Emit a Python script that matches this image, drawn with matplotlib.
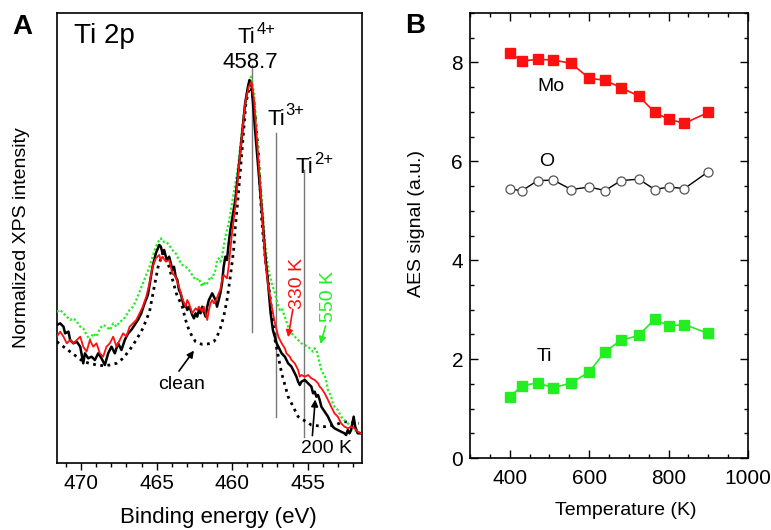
import matplotlib
matplotlib.use("Agg")
import matplotlib.pyplot as plt
from matplotlib.ticker import MultipleLocator

plt.rcParams['font.family'] = ['Liberation Sans', 'DejaVu Sans']

# ---------------- Panel A data (Ti 2p XPS) ----------------
E_200K = [471.61, 471.39, 471.17, 471.06, 470.84, 470.73, 470.51, 470.29, 470.06, 469.86, 469.75, 469.53,
          469.31, 469.09, 468.87, 468.65, 468.43, 468.21, 467.99, 467.77, 467.55, 467.33, 467.11, 466.89,
          466.68, 466.46, 466.24, 466.02, 465.80, 465.58, 465.45, 465.27, 465.05, 464.83, 464.72, 464.61,
          464.50, 464.39, 464.28, 464.17, 464.06, 463.96, 463.85, 463.74, 463.63, 463.52, 463.41, 463.30,
          463.19, 463.08, 462.97, 462.86, 462.75, 462.64, 462.53, 462.42, 462.31, 462.20, 462.09, 461.98,
          461.87, 461.76, 461.65, 461.54, 461.43, 461.32, 461.21, 461.10, 461.00, 460.89, 460.78, 460.67,
          460.56, 460.45, 460.34, 460.23, 460.12, 460.01, 459.90, 459.79, 459.47, 459.14, 458.95, 458.85,
          458.70, 458.48, 458.26, 457.98, 457.80, 457.60, 457.45, 457.30, 457.05, 456.94, 456.72, 456.51,
          456.40, 456.29, 456.07, 455.85, 455.74, 455.63, 455.52, 455.41, 455.19, 454.97, 454.75, 454.64,
          454.53, 454.42, 454.31, 454.20, 454.09, 453.87, 453.65, 453.55, 453.44, 453.33, 453.22, 453.00,
          452.78, 452.56, 452.45, 452.34, 452.23, 452.12, 451.95, 451.85, 451.68, 451.46]
I_200K = [42.5, 43.0, 42.0, 40.0, 40.5, 38.0, 37.0, 37.5, 36.0, 31.0, 34.0, 32.5,
          33.0, 32.0, 34.0, 32.5, 30.5, 34.0, 36.0, 34.0, 37.0, 35.0, 38.0, 40.0,
          41.0, 42.5, 44.0, 46.0, 49.0, 51.5, 55.0, 60.0, 64.0, 66.5, 66.0, 64.0,
          65.0, 63.0, 62.0, 63.0, 61.0, 59.0, 60.0, 57.0, 56.0, 53.0, 52.0, 50.0,
          48.0, 48.5, 47.0, 48.0, 47.0, 45.5, 44.5, 46.0, 45.0, 47.0, 46.0, 48.0,
          46.5, 45.0, 48.0, 50.0, 51.0, 52.0, 51.0, 50.0, 48.0, 50.0, 52.0, 55.0,
          60.0, 63.0, 62.0, 67.0, 71.0, 74.0, 77.0, 80.0, 94.0, 109.0, 114.0, 116.0,
          114.0, 101.0, 89.0, 74.0, 63.0, 54.0, 46.0, 41.0, 37.0, 36.0, 34.0, 33.0,
          32.0, 31.0, 30.0, 28.0, 27.0, 25.5, 24.5, 25.5, 26.0, 25.0, 24.0, 22.0,
          22.5, 21.0, 21.5, 20.0, 18.0, 16.5, 15.0, 14.0, 13.0, 12.0, 11.5, 11.0,
          10.5, 10.0, 9.5, 11.0, 10.0, 11.0, 15.0, 12.0, 10.0, 10.0]

E_330K = [471.61, 471.39, 471.17, 470.95, 470.73, 470.51, 470.29, 470.06, 469.86, 469.64, 469.42, 469.20,
          468.98, 468.76, 468.54, 468.32, 468.10, 467.88, 467.66, 467.44, 467.22, 467.00, 466.79, 466.57,
          466.35, 466.13, 465.91, 465.69, 465.47, 465.27, 465.05, 464.83, 464.72, 464.61, 464.39, 464.17,
          464.06, 463.96, 463.74, 463.52, 463.30, 463.08, 462.97, 462.86, 462.75, 462.64, 462.42, 462.31,
          462.20, 461.98, 461.87, 461.76, 461.65, 461.54, 461.43, 461.32, 461.21, 461.10, 460.89, 460.78,
          460.67, 460.56, 460.45, 460.34, 460.23, 460.12, 460.01, 459.90, 459.79, 459.47, 459.14, 458.90,
          458.72, 458.55, 458.26, 457.93, 457.82, 457.60, 457.38, 457.16, 456.94, 456.72, 456.51, 456.40,
          456.29, 456.18, 456.07, 455.85, 455.63, 455.52, 455.41, 455.19, 454.97, 454.75, 454.53, 454.31,
          454.20, 454.09, 453.87, 453.65, 453.44, 453.22, 453.00, 452.78, 452.56, 452.34, 452.12, 451.90,
          451.68, 451.46]
I_330K = [39.0, 40.5, 39.0, 37.0, 38.0, 37.0, 38.0, 39.0, 36.0, 34.5, 38.0, 36.0,
          37.0, 34.0, 33.0, 36.0, 37.0, 39.0, 36.0, 38.0, 40.0, 39.0, 42.0, 43.0,
          44.0, 46.0, 48.0, 51.0, 55.0, 60.0, 62.5, 63.5, 62.0, 63.0, 61.5, 62.0,
          60.0, 58.0, 57.0, 54.0, 50.5, 48.0, 50.0, 49.0, 47.5, 46.0, 47.5, 47.0,
          48.0, 46.5, 48.0, 46.0, 44.0, 47.0, 49.0, 50.0, 49.0, 49.5, 52.0, 53.0,
          56.0, 57.5, 57.0, 56.5, 60.0, 65.0, 70.0, 74.0, 78.0, 94.0, 109.0, 114.0,
          115.5, 110.0, 92.0, 70.0, 62.0, 54.0, 48.0, 43.0, 39.0, 37.0, 35.5, 34.0,
          33.5, 33.0, 32.0, 31.0, 29.0, 27.0, 27.5, 27.0, 27.5, 26.5, 26.0, 25.0,
          24.0, 23.5, 22.0, 20.0, 18.0, 16.0, 15.0, 13.0, 12.0, 11.5, 12.0, 11.5,
          10.5, 10.0]

E_550K = [471.61, 471.39, 471.17, 470.95, 470.73, 470.51, 470.29, 470.06, 469.86, 469.64, 469.42, 469.20,
          468.98, 468.76, 468.54, 468.32, 468.10, 467.88, 467.66, 467.44, 467.22, 467.00, 466.79, 466.57,
          466.35, 466.13, 465.91, 465.69, 465.47, 465.27, 465.05, 464.83, 464.72, 464.61, 464.39, 464.17,
          463.96, 463.74, 463.52, 463.30, 463.08, 462.86, 462.64, 462.42, 462.20, 462.09, 461.98, 461.87,
          461.76, 461.65, 461.54, 461.43, 461.32, 461.10, 461.00, 460.89, 460.78, 460.67, 460.56, 460.45,
          460.34, 460.23, 460.12, 460.01, 459.60, 459.30, 459.00, 458.75, 458.55, 458.30, 458.00, 457.80,
          457.60, 457.38, 457.16, 457.05, 456.94, 456.83, 456.72, 456.51, 456.29, 456.07, 455.85, 455.63,
          455.41, 455.19, 454.97, 454.75, 454.64, 454.53, 454.42, 454.31, 454.20, 454.09, 453.98, 453.87,
          453.76, 453.65, 453.44, 453.33, 453.22, 453.00, 452.78, 452.56, 452.34, 452.12, 452.01, 451.90,
          451.68, 451.46]
I_550K = [46.5, 47.0, 46.0, 45.0, 44.0, 44.5, 43.5, 42.0, 41.5, 39.5, 38.0, 40.0,
          39.0, 41.5, 42.5, 42.0, 41.0, 43.0, 42.0, 43.5, 44.0, 45.5, 47.0, 48.0,
          50.0, 52.5, 55.0, 57.5, 60.0, 63.0, 66.0, 68.0, 68.5, 67.5, 67.5, 66.5,
          65.0, 64.0, 62.0, 60.5, 60.0, 59.0, 57.5, 56.0, 56.5, 55.0, 54.0, 55.5,
          54.5, 55.0, 56.0, 57.0, 56.5, 59.0, 62.0, 62.5, 61.5, 63.0, 66.0, 69.0,
          71.0, 73.0, 76.0, 79.0, 90.0, 103.0, 113.0, 117.0, 112.0, 96.0, 78.0, 66.0,
          59.0, 55.0, 52.0, 50.0, 48.0, 47.0, 47.5, 45.0, 42.0, 40.0, 39.0, 38.0,
          37.0, 36.5, 36.0, 35.0, 34.5, 35.5, 35.0, 33.0, 31.0, 29.0, 28.0, 27.5,
          25.5, 23.0, 21.0, 19.0, 18.0, 17.0, 15.0, 14.0, 13.0, 12.0, 12.5, 11.0,
          10.5, 10.0]

E_clean = [471.61, 471.17, 470.73, 470.29, 469.86, 469.42, 468.98, 468.54, 468.10, 467.66, 467.22, 466.79,
           466.35, 465.91, 465.47, 465.20, 464.90, 464.60, 464.30, 464.00, 463.70, 463.30, 463.08, 462.86,
           462.64, 462.42, 462.20, 461.98, 461.65, 461.43, 461.21, 461.00, 460.78, 460.56, 460.34, 460.12,
           459.90, 459.79, 459.68, 459.36, 459.09, 458.80, 458.55, 458.26, 458.04, 457.82, 457.49, 457.16,
           456.72, 456.29, 455.63, 454.75, 453.87, 453.22, 452.56, 451.60]
I_clean = [37.5, 36.0, 34.5, 33.0, 31.5, 31.0, 30.5, 30.3, 30.5, 31.0, 32.5, 35.0,
           38.0, 41.5, 46.5, 53.0, 60.0, 64.0, 62.0, 57.0, 52.0, 48.0, 44.0, 41.0,
           39.0, 37.5, 37.0, 36.7, 36.8, 37.0, 37.5, 39.0, 41.5, 45.0, 50.0, 57.0,
           65.0, 72.0, 77.0, 94.0, 109.0, 115.0, 109.0, 94.0, 74.0, 63.0, 51.0, 38.0,
           28.0, 21.0, 15.0, 12.5, 12.0, 12.5, 13.5, 13.0]

# reference lines (binding energy, low end, high end of line)
line_E = [458.7, 457.1, 455.25]
line_lo = [40.5, 15.0, 9.0]
line_hi = [120.5, 100.0, 89.0]

# oxidation-state labels: superscript, anchor energy, baseline intensity
ion_sup = ['4+', '3+', '2+']
ion_E = [458.45, 456.50, 454.64]
ion_I = [127.0, 102.5, 88.0]

# ---------------- Panel B data (AES vs temperature) ----------------
T = [400, 430, 470, 510, 555, 600, 640, 680, 725, 765, 800, 840, 900]
Mo = [8.20, 8.03, 8.06, 8.05, 7.98, 7.68, 7.64, 7.49, 7.32, 6.99, 6.85, 6.77, 6.99]
O = [5.45, 5.40, 5.61, 5.62, 5.43, 5.48, 5.41, 5.61, 5.64, 5.43, 5.48, 5.45, 5.79]
Ti = [1.23, 1.46, 1.52, 1.42, 1.52, 1.74, 2.15, 2.38, 2.48, 2.81, 2.67, 2.70, 2.52]

fig = plt.figure(figsize=(7.71, 5.30), dpi=100)

# ================= Panel A =================
axA = fig.add_axes([0.0739, 0.1264, 0.3956, 0.8491])
for e, lo, hi in zip(line_E, line_lo, line_hi):
    axA.plot([e, e], [lo, hi], color='#777777', lw=1.0, zorder=1)
axA.plot(E_clean, I_clean, color='black', lw=2.0, linestyle=(0, (1.0, 1.6)), zorder=2)
axA.plot(E_550K, I_550K, color='#22ee22', lw=1.6, linestyle=(0, (1, 1)), zorder=3)
axA.plot(E_200K, I_200K, color='black', lw=1.8, zorder=4)
axA.plot(E_330K, I_330K, color='#ff1010', lw=1.3, zorder=5)

axA.set_xlim(471.6, 451.4)
axA.set_ylim(1.1, 136.1)
axA.set_yticks([])
axA.xaxis.set_major_locator(MultipleLocator(5))
axA.xaxis.set_minor_locator(MultipleLocator(1))
axA.tick_params(axis='x', which='major', direction='out', length=5, width=1.0, labelsize=15, pad=3)
axA.tick_params(axis='x', which='minor', direction='out', length=3, width=1.0)
for s in axA.spines.values():
    s.set_linewidth(1.2)
axA.set_xlabel('Binding energy (eV)', fontsize=16, va='center')
axA.xaxis.set_label_coords(0.53, -0.12)
axA.set_ylabel('Normalized XPS intensity', fontsize=14, va='center')
axA.yaxis.set_label_coords(-0.116, 0.5)

axA.text(470.45, 127.1, 'Ti 2p', fontsize=20, ha='left', va='baseline')
for sup, e, i in zip(ion_sup, ion_E, ion_I):
    axA.text(e, i, 'Ti', fontsize=16, ha='right', va='baseline')
    axA.annotate(sup, xy=(e, i), xytext=(0.5, 7), textcoords='offset points',
                 fontsize=12, ha='left', va='baseline')
axA.text(458.78, 119.5, '458.7', fontsize=16, ha='center', va='baseline')

axA.text(455.66, 55.0, '330 K', fontsize=14, color='#ff1010', rotation=90, ha='center', va='center')
axA.annotate('', xy=(456.32, 38.0), xytext=(455.95, 48.0),
             arrowprops=dict(arrowstyle='-|>', color='#ff1010', lw=1.2, mutation_scale=10))
axA.text(453.65, 51.0, '550 K', fontsize=14, color='#22ee22', rotation=90, ha='center', va='center')
axA.annotate('', xy=(454.20, 36.0), xytext=(453.76, 43.0),
             arrowprops=dict(arrowstyle='-|>', color='#22ee22', lw=1.2, mutation_scale=10))
axA.text(463.34, 24.8, 'clean', fontsize=14, ha='center', va='center')
axA.annotate('', xy=(462.42, 35.5), xytext=(463.63, 28.0),
             arrowprops=dict(arrowstyle='-|>', color='black', lw=1.2, mutation_scale=10))
axA.text(453.76, 5.5, '200 K', fontsize=14, ha='center', va='center')
axA.annotate('', xy=(454.48, 21.0), xytext=(454.7, 8.5),
             arrowprops=dict(arrowstyle='-|>', color='black', lw=1.2, mutation_scale=10))

fig.text(22 / 771, 1 - 27 / 530, 'A', fontsize=20, fontweight='bold', ha='center', va='center')

# ================= Panel B =================
axB = fig.add_axes([0.6096, 0.1358, 0.3606, 0.8397])
axB.plot(T, Mo, color='#ff1010', lw=1.2, marker='s', markersize=6.5, mfc='#ff1010', mec='#ff1010')
axB.plot(T, O, color='black', lw=1.0, marker='o', markersize=6.5, mfc='white', mec='#555555', mew=0.9)
axB.plot(T, Ti, color='#22ee22', lw=1.2, marker='s', markersize=6.5, mfc='#22ee22', mec='#22ee22')

axB.set_xlim(300, 1000)
axB.set_ylim(0, 9)
axB.xaxis.set_major_locator(MultipleLocator(200))
axB.xaxis.set_minor_locator(MultipleLocator(50))
axB.yaxis.set_major_locator(MultipleLocator(2))
axB.yaxis.set_minor_locator(MultipleLocator(0.5))
axB.tick_params(which='both', direction='in', top=True, right=True, width=1.0)
axB.tick_params(which='major', length=6, labelsize=15)
axB.tick_params(which='minor', length=3)
axB.tick_params(axis='x', which='major', pad=8)
axB.tick_params(axis='y', which='major', pad=5)
for s in axB.spines.values():
    s.set_linewidth(1.2)
axB.set_xlabel('Temperature (K)', fontsize=14, va='center')
axB.xaxis.set_label_coords(0.559, -0.117)
axB.set_ylabel('AES signal (a.u.)', fontsize=14, va='center')
axB.yaxis.set_label_coords(-0.192, 0.526)

axB.text(504, 7.52, 'Mo', fontsize=14, ha='center', va='center')
axB.text(492, 5.99, 'O', fontsize=14, ha='center', va='center')
axB.text(487, 2.06, 'Ti', fontsize=14, ha='center', va='center')

fig.text(415 / 771, 1 - 26 / 530, 'B', fontsize=20, fontweight='bold', ha='center', va='center')

fig.savefig('out.png', dpi=100)
